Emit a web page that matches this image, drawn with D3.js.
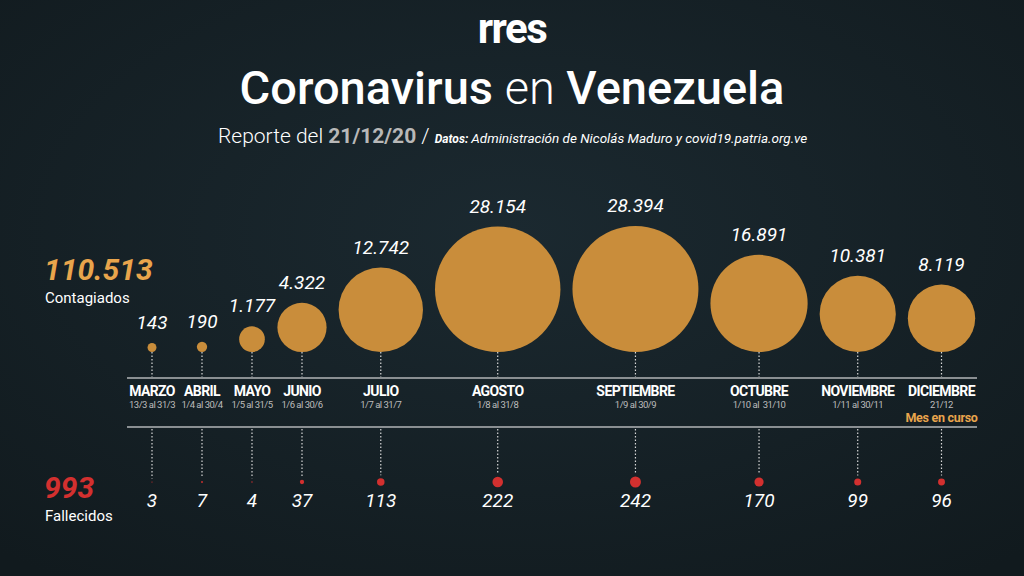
<!DOCTYPE html>
<html>
<head>
<meta charset="utf-8">
<script src="https://cdn.jsdelivr.net/npm/d3@7.9.0/dist/d3.min.js"></script>
<style>
  html, body { margin: 0; padding: 0; background: #141e23; }
  svg { display: block; font-family: Roboto, "Noto Sans", sans-serif; }
</style>
</head>
<body>
<svg id="chart" width="1024" height="576"></svg>
<script>
// Data
const months   = ['MARZO', 'ABRIL', 'MAYO', 'JUNIO', 'JULIO', 'AGOSTO', 'SEPTIEMBRE', 'OCTUBRE', 'NOVIEMBRE', 'DICIEMBRE'];
const ranges   = ['13/3 al 31/3', '1/4 al 30/4', '1/5 al 31/5', '1/6 al 30/6', '1/7 al 31/7', '1/8 al 31/8', '1/9 al 30/9', '1/10 al  31/10', '1/11 al 30/11', '21/12'];
const contagios  = [143, 190, 1177, 4322, 12742, 28154, 28394, 16891, 10381, 8119];
const fallecidos = [3, 7, 4, 37, 113, 222, 242, 170, 99, 96];
const totalContagios  = '110.513';
const totalFallecidos = '993';

const fmt = d3.formatLocale({ decimal: ',', thousands: '.', grouping: [3], currency: ['', ''] }).format(',d');

const svg = d3.select('#chart');
const W = 1024, H = 576;

// Background
const defs = svg.append('defs');
const bg = defs.append('radialGradient').attr('id', 'bg').attr('cx', '50%').attr('cy', '40%').attr('r', '75%');
bg.append('stop').attr('offset', '0%').attr('stop-color', '#1b2930');
bg.append('stop').attr('offset', '100%').attr('stop-color', '#111a1e');
svg.append('rect').attr('width', W).attr('height', H).attr('fill', 'url(#bg)');

// Scales
const rScale = d3.scaleSqrt().domain([0, d3.max(contagios)]).range([0, 63]);
const dScale = d3.scaleSqrt().domain([0, d3.max(fallecidos)]).range([0, 5.5]);

// Horizontal layout: circles packed side by side with a minimum step
const xs = [];
contagios.forEach((v, i) => {
  if (i === 0) { xs.push(152); return; }
  const step = Math.max(rScale(contagios[i - 1]) + rScale(v) + 12, 50);
  xs.push(xs[i - 1] + step);
});

const baseY = 352, lineTop = 378, lineBot = 427, deathY = 482;

// Header
svg.append('text').attr('x', W / 2).attr('y', 43).attr('text-anchor', 'middle')
  .attr('fill', '#fff').attr('font-size', 42).attr('font-weight', 700)
  .attr('letter-spacing', -1.5).text('rres');

const title = svg.append('text').attr('x', W / 2).attr('y', 104).attr('text-anchor', 'middle')
  .attr('fill', '#fff').attr('font-size', 47);
title.append('tspan').attr('font-weight', 500).text('Coronavirus ');
title.append('tspan').attr('font-weight', 300).text('en ');
title.append('tspan').attr('font-weight', 500).text('Venezuela');

const sub = svg.append('text').attr('x', 218).attr('y', 143).attr('fill', '#fff');
sub.append('tspan').attr('font-size', 21).attr('font-weight', 300).text('Reporte del ');
sub.append('tspan').attr('font-size', 21).attr('font-weight', 700).attr('fill', '#b8b8b8').text('21/12/20');
sub.append('tspan').attr('font-size', 21).attr('font-weight', 300).text(' / ');
sub.append('tspan').attr('font-size', 12).attr('font-weight', 700).attr('font-style', 'italic').text('Datos: ');
sub.append('tspan').attr('font-size', 13.5).attr('font-style', 'italic').attr('font-weight', 400).text('Administración de Nicolás Maduro y covid19.patria.org.ve');

// Totals on the left
svg.append('text').attr('x', 44).attr('y', 280).attr('fill', '#e9a54c')
  .attr('font-size', 30).attr('font-weight', 700).attr('font-style', 'italic').text(totalContagios);
svg.append('text').attr('x', 45).attr('y', 303).attr('fill', '#fff')
  .attr('font-size', 15).text('Contagiados');
svg.append('text').attr('x', 44).attr('y', 498).attr('fill', '#d3302f')
  .attr('font-size', 30).attr('font-weight', 700).attr('font-style', 'italic').text(totalFallecidos);
svg.append('text').attr('x', 45).attr('y', 521).attr('fill', '#fff')
  .attr('font-size', 15).text('Fallecidos');

// Separator lines
[lineTop, lineBot].forEach(y => {
  svg.append('line').attr('x1', 127).attr('x2', 977).attr('y1', y).attr('y2', y)
    .attr('stroke', '#8a8f92').attr('stroke-width', 2);
});

const g = svg.append('g');
const cols = g.selectAll('g.col').data(months).join('g').attr('class', 'col')
  .attr('transform', (d, i) => `translate(${xs[i]},0)`);

// Dotted connectors
cols.append('line').attr('y1', baseY).attr('y2', lineTop - 1)
  .attr('stroke', '#d8d8d8').attr('stroke-width', 1.2).attr('stroke-dasharray', '1.5,2');
cols.append('line').attr('y1', lineBot + 2).attr('y2', (d, i) => deathY - dScale(fallecidos[i]) - 3)
  .attr('stroke', '#d8d8d8').attr('stroke-width', 1.2).attr('stroke-dasharray', '1.5,2');

// Cases circles
cols.append('circle')
  .attr('cy', (d, i) => baseY - rScale(contagios[i]))
  .attr('r', (d, i) => rScale(contagios[i]))
  .attr('fill', '#c98d3b');

cols.append('text')
  .attr('y', (d, i) => baseY - 2 * rScale(contagios[i]) - 14)
  .attr('text-anchor', 'middle').attr('fill', '#fff')
  .attr('font-size', 19).attr('font-style', 'italic').attr('font-weight', 400)
  .text((d, i) => fmt(contagios[i]));

// Month labels
cols.append('text').attr('y', 396).attr('text-anchor', 'middle').attr('fill', '#fff')
  .attr('font-size', 14).attr('font-weight', 700).attr('letter-spacing', -0.6).text(d => d);
cols.append('text').attr('y', 408).attr('text-anchor', 'middle').attr('fill', '#bdbdbd')
  .attr('font-size', 9.5).attr('letter-spacing', -0.5)
  .style('white-space', 'pre').text((d, i) => ranges[i]);
cols.filter((d, i) => i === months.length - 1).append('text')
  .attr('y', 422).attr('text-anchor', 'middle').attr('fill', '#e9a54c')
  .attr('font-size', 12.5).attr('font-weight', 700).attr('letter-spacing', -0.3).text('Mes en curso');

// Deaths dots
cols.append('circle').attr('cy', deathY)
  .attr('r', (d, i) => dScale(fallecidos[i]))
  .attr('fill', '#d3302f');
cols.append('text').attr('y', 507).attr('text-anchor', 'middle').attr('fill', '#fff')
  .attr('font-size', 19).attr('font-style', 'italic').attr('font-weight', 400)
  .text((d, i) => fmt(fallecidos[i]));
</script>
</body>
</html>
